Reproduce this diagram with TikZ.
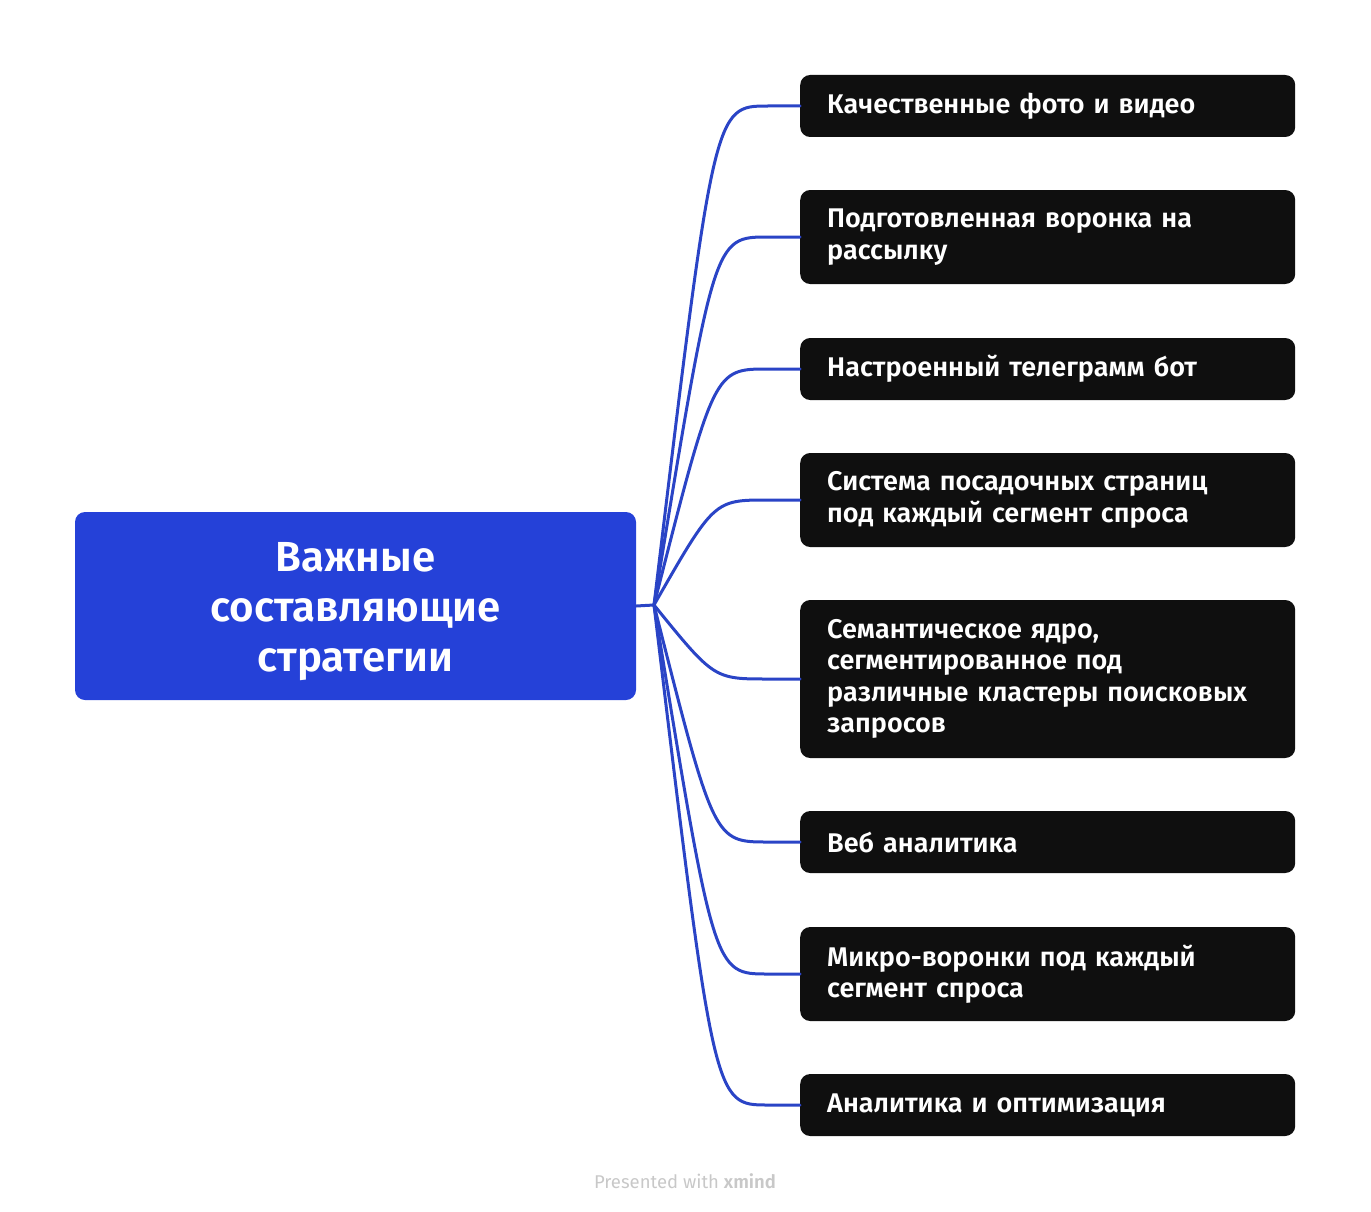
\documentclass[tikz,border=0pt]{standalone}
\usepackage{fontspec}
\setmainfont{Fira Sans}[BoldFont={Fira Sans SemiBold}]
\usetikzlibrary{calc}
\definecolor{mainblue}{HTML}{2541D8}
\definecolor{lineblue}{HTML}{2A44C6}
\definecolor{boxblack}{HTML}{0F0F0F}
\definecolor{footgray}{HTML}{C8C8C8}
\newcommand{\leaffont}{\fontsize{27}{31.5}\selectfont\bfseries}
\newcommand{\mainfont}{\fontsize{42}{50}\selectfont\bfseries}
\begin{document}
\begin{tikzpicture}[x=1pt,y=-1pt,
  leaf/.style={fill=boxblack, rounded corners=10pt, anchor=west, text width=441pt,
    inner xsep=27pt, inner ysep=0pt, align=left, text=white, font=\leaffont},
  centre/.style={fill=mainblue, rounded corners=10pt, minimum width=561pt, minimum height=188pt,
    inner sep=0pt},
  centretext/.style={inner sep=0pt, text=white, align=center, font=\mainfont},
  conn/.style={draw=lineblue, line width=3pt, line cap=round},
  foot/.style={text=footgray, font=\fontsize{18.5}{22}\selectfont, inner sep=0pt}
]
\useasboundingbox (0,0) rectangle (1371,1212);
\node[centre] (c) at (355.5,606) {};
\node[centretext] (ct) at ($(c.center)+(0,6)$) {Важные\\составляющие\\стратегии};
\node[leaf, minimum height=62pt] (n1) at (800,106) {Качественные фото и видео};
\node[leaf, minimum height=94pt] (n2) at (800,237) {Подготовленная воронка на\\рассылку};
\node[leaf, minimum height=62pt] (n3) at (800,369) {Настроенный телеграмм бот};
\node[leaf, minimum height=94pt] (n4) at (800,500) {Система посадочных страниц\\под каждый сегмент спроса};
\node[leaf, minimum height=158pt] (n5) at (800,679) {Семантическое ядро,\\сегментированное под\\различные кластеры поисковых\\запросов};
\node[leaf, minimum height=62pt] (n6) at (800,842) {Веб аналитика};
\node[leaf, minimum height=94pt] (n7) at (800,974) {Микро-воронки под каждый\\сегмент спроса};
\node[leaf, minimum height=62pt] (n8) at (800,1105) {Аналитика и оптимизация};
\coordinate (j) at (654,605);
\draw[conn] (c.east) -- (j);
\foreach \n in {n1,n2,n3,n4,n5,n6,n7,n8}{
  \draw[conn] (j) .. controls ($(\n.west)+(-86,0)$) .. ($(\n.west)+(-32,0)$) -- (\n.west);
}
\node[foot] (f) at (685,1181) {Presented with \textbf{xmind}};
\end{tikzpicture}
\end{document}
